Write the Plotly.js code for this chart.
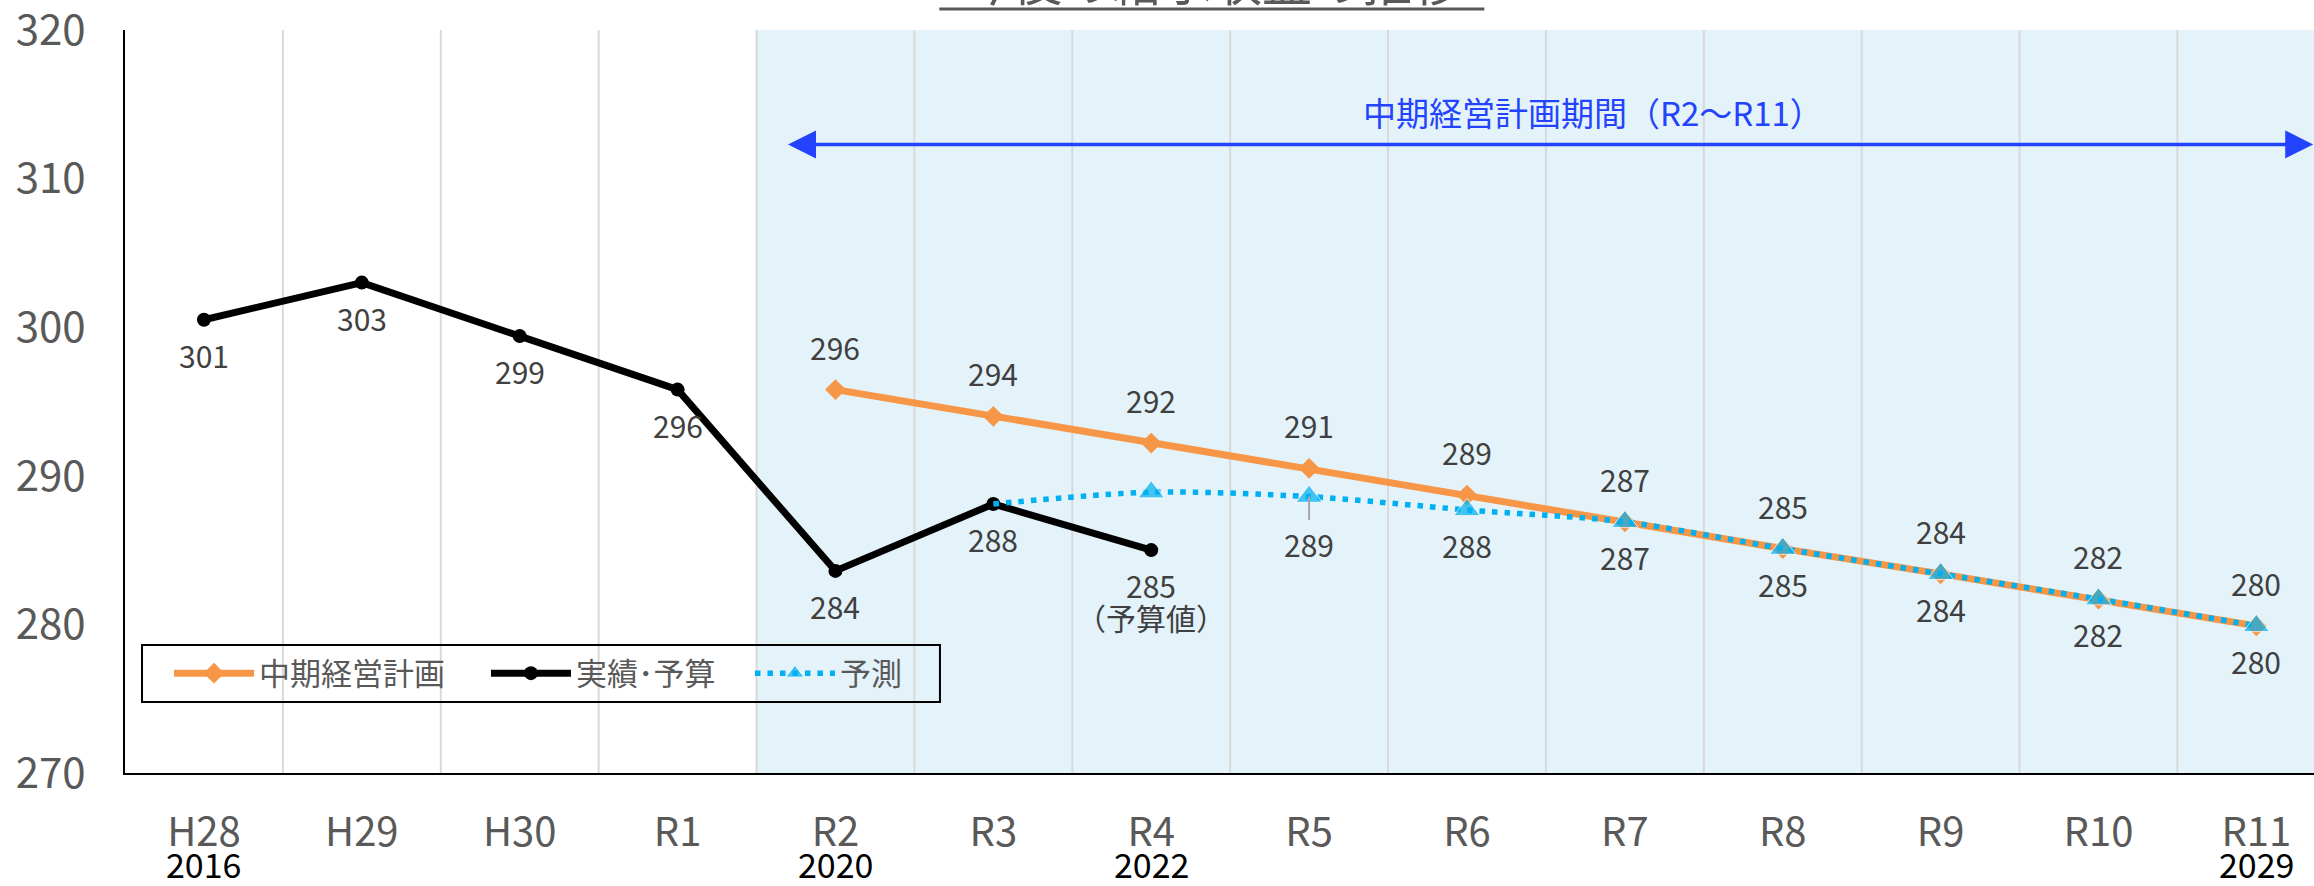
<!DOCTYPE html>
<html>
<head>
<meta charset="utf-8">
<script src="https://cdn.plot.ly/plotly-3.0.1.min.js"></script>
<style>
  html, body { margin: 0; padding: 0; background: #ffffff; }
  #chart { width: 2314px; height: 886px; }
</style>
</head>
<body>
<div id="chart"></div>
<script>
// ---- data ----
const categories = ['H28','H29','H30','R1','R2','R3','R4','R5','R6','R7','R8','R9','R10','R11'];
const yearLabels = ['2016','','','','2020','','2022','','','','','','','2029'];
const yTicks = [270, 280, 290, 300, 310, 320];

const planName = '中期経営計画';
const planValues = [null,null,null,null,295.8,294.0,292.2,290.5,288.7,286.9,285.1,283.4,281.7,279.9];
const planLabels = ['','','','','296','294','292','291','289','287','285','284','282','280'];

const actualName = '実績･予算';
const actualValues = [300.5,303.0,299.4,295.8,283.6,288.1,285.0,null,null,null,null,null,null,null];
const actualLabels = ['301','303','299','296','284','288','285<br>（予算値）','','','','','','',''];

const forecastName = '予測';
const forecastValues = [null,null,null,null,null,288.1,288.9,288.6,287.7,286.9,285.1,283.4,281.7,279.9];
const forecastLabels = ['','','','','','','','289','288','287','285','284','282','280'];

const periodLabel = '中期経営計画期間（R2～R11）';
const titleText = '今後の給水収益の推移';

// ---- styling ----
const FONT = '"Noto Sans CJK JP", "Noto Sans", sans-serif';
const ORANGE = '#F79646';
const BLUE_DOT = '#00B0F0';
const ARROW_BLUE = '#2343FF';
const LABEL_COLOR = '#404040';
const TICK_COLOR = '#595959';
const LABEL_SIZE = 30;

const xIdx = categories.map((c, i) => i);

const tracePlan = {
  type: 'scatter', mode: 'lines+markers', name: planName, legend: 'legend',
  x: xIdx, y: planValues,
  line: { color: ORANGE, width: 7 },
  marker: { symbol: 'diamond', size: 16, color: ORANGE },
  hoverinfo: 'skip', connectgaps: false
};
const traceActual = {
  type: 'scatter', mode: 'lines+markers', name: actualName, legend: 'legend2',
  x: xIdx, y: actualValues,
  line: { color: '#000000', width: 7 },
  marker: { symbol: 'circle', size: 14, color: '#000000' },
  hoverinfo: 'skip', connectgaps: false
};
const firstForecast = forecastValues.findIndex(v => v !== null);
const traceForecast = {
  type: 'scatter', mode: 'lines+markers', name: forecastName, legend: 'legend3',
  x: xIdx, y: forecastValues,
  line: { color: BLUE_DOT, width: 5.5, dash: '5.5px,7px', shape: 'spline', smoothing: 0.8 },
  marker: { symbol: 'triangle-up', color: BLUE_DOT,
            size: forecastValues.map((v, i) => i === firstForecast ? 0 : 23) },
  hoverinfo: 'skip', connectgaps: false
};

const annotations = [];
function pushLabel(i, v, text, above, extraShift) {
  annotations.push({
    x: i, y: v, xref: 'x', yref: 'y', text: text, showarrow: false,
    xanchor: 'center', yanchor: above ? 'bottom' : 'top',
    yshift: above ? 20 : -12 - (extraShift || 0), borderpad: 0,
    font: { family: FONT, size: LABEL_SIZE, color: LABEL_COLOR }
  });
}
function addLabels(values, labels, above) {
  values.forEach((v, i) => {
    if (v === null || !labels[i]) return;
    const lines = labels[i].split('<br>');
    lines.forEach((ln, k) => pushLabel(i, v, ln, above, k * 32));
  });
}
addLabels(planValues, planLabels, true);
addLabels(actualValues, actualLabels, false);
// forecast labels below; R5 one has a leader line
forecastValues.forEach((v, i) => {
  if (v === null || !forecastLabels[i]) return;
  if (categories[i] === 'R5') {
    annotations.push({
      x: i, y: v, xref: 'x', yref: 'y', text: forecastLabels[i],
      showarrow: true, arrowhead: 0, arrowwidth: 2, arrowcolor: '#A6A6A6',
      ax: 0, ay: 47, standoff: 0,
      font: { family: FONT, size: LABEL_SIZE, color: LABEL_COLOR }
    });
  } else {
    pushLabel(i, v, forecastLabels[i], false, 0);
  }
});
// year labels under the axis
yearLabels.forEach((t, i) => {
  if (!t) return;
  annotations.push({
    x: i, y: -0.122, xref: 'x', yref: 'paper', text: t, showarrow: false,
    xanchor: 'center', yanchor: 'middle', borderpad: 0,
    font: { family: FONT, size: 34, color: '#000000' }
  });
});
// period arrow (double-headed)
annotations.push({
  x: 13.36, y: 312.3, ax: 3.69, ay: 312.3, xref: 'x', yref: 'y', axref: 'x', ayref: 'y',
  text: '', showarrow: true, arrowside: 'end+start', arrowhead: 2,
  arrowsize: 1.6, arrowwidth: 3.5, arrowcolor: ARROW_BLUE
});
annotations.push({
  x: 8.8, y: 314.5, xref: 'x', yref: 'y', text: periodLabel, showarrow: false,
  xanchor: 'center', yanchor: 'middle',
  font: { family: FONT, size: 33, color: ARROW_BLUE }
});
// cut-off title
annotations.push({
  x: 0.4966, y: 1.069, xref: 'paper', yref: 'paper', text: titleText, showarrow: false,
  xanchor: 'center', yanchor: 'middle',
  font: { family: FONT, size: 50, color: TICK_COLOR }
});

function legendAt(x) {
  return {
    orientation: 'h', x: x, y: 0.1339, xanchor: 'left', yanchor: 'middle',
    bgcolor: 'rgba(0,0,0,0)', borderwidth: 0,
    font: { family: FONT, size: 31, color: TICK_COLOR },
    itemwidth: 80
  };
}

const layout = {
  width: 2314, height: 886,
  margin: { l: 125, r: 0, t: 30, b: 113, pad: 0 },
  paper_bgcolor: '#ffffff', plot_bgcolor: 'rgba(0,0,0,0)',
  font: { family: FONT, color: TICK_COLOR },
  showlegend: true,
  legend: legendAt(0.0201),
  legend2: legendAt(0.1649),
  legend3: legendAt(0.2855),
  xaxis: {
    type: 'linear', range: [-0.5, 13.365],
    tickmode: 'array', tickvals: xIdx, ticktext: categories,
    tickfont: { family: FONT, size: 40, color: TICK_COLOR },
    ticks: '', ticklabelstandoff: 23, ticklabeloverflow: 'allow',
    showgrid: false, zeroline: false,
    showline: true, linecolor: '#000000', linewidth: 2,
    fixedrange: true
  },
  yaxis: {
    range: [269.999, 320.001],
    tickmode: 'array', tickvals: yTicks, ticktext: yTicks.map(String),
    tickfont: { family: FONT, size: 42, color: TICK_COLOR },
    ticks: '', ticklabelstandoff: 29, ticklabeloverflow: 'allow',
    showgrid: false, zeroline: false,
    showline: true, linecolor: '#000000', linewidth: 2,
    fixedrange: true
  },
  shapes: [
    // planning-period shading (R2 onward)
    { type: 'rect', xref: 'x', yref: 'paper', x0: categories.indexOf('R2') - 0.5, x1: categories.length - 0.5,
      y0: 0, y1: 1, fillcolor: '#E4F3F9', line: { width: 0 }, layer: 'below' },
    // title underline
    { type: 'line', xref: 'paper', yref: 'paper', x0: 0.372, x1: 0.621, y0: 1.0283, y1: 1.0283,
      line: { color: TICK_COLOR, width: 3 } },
    // legend frame
    { type: 'rect', xref: 'paper', yref: 'paper', x0: 0.00777, x1: 0.3723, y0: 0.0956, y1: 0.1723,
      line: { color: '#000000', width: 2 }, fillcolor: 'rgba(0,0,0,0)', layer: 'above' }
  ].concat(
    // vertical gridlines at category boundaries
    categories.slice(1).map((c, i) => ({
      type: 'line', xref: 'x', yref: 'paper', x0: i + 0.5, x1: i + 0.5, y0: 0, y1: 1,
      line: { color: '#D9D9D9', width: 2 }, layer: 'below'
    }))
  ),
  annotations: annotations
};

Plotly.newPlot('chart', [tracePlan, traceActual, traceForecast], layout, { staticPlot: true, displayModeBar: false });
</script>
</body>
</html>
